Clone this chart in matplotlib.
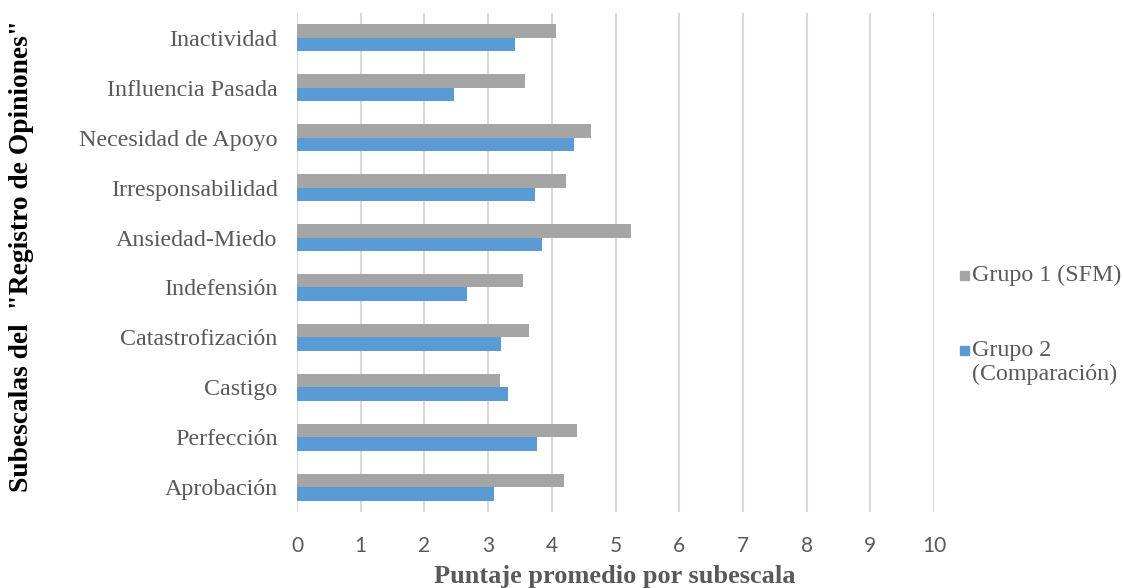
import numpy as np
import matplotlib
matplotlib.use('Agg')
import matplotlib.pyplot as plt
from matplotlib.patches import Rectangle

# Subscales (top to bottom as shown)
categories = ['Inactividad', 'Influencia Pasada', 'Necesidad de Apoyo',
              'Irresponsabilidad', 'Ansiedad-Miedo', 'Indefensión',
              'Catastrofización', 'Castigo', 'Perfección', 'Aprobación']
grupo1 = [4.07, 3.58, 4.62, 4.22, 5.25, 3.55, 3.64, 3.18, 4.40, 4.19]
grupo2 = [3.42, 2.46, 4.35, 3.73, 3.84, 2.67, 3.21, 3.31, 3.76, 3.10]
xticks = list(range(0, 11))

label1 = 'Grupo 1 (SFM)'
label2 = 'Grupo 2\n(Comparación)'

GRAY = '#A5A5A5'
BLUE = '#5B9BD5'
TXT = '#595959'
GRID = '#D9D9D9'
SERIF = 'Liberation Serif'

W, H = 1123, 588
fig = plt.figure(figsize=(W / 100, H / 100), dpi=100)
ax = fig.add_axes([297 / W, 1 - 512 / H, (934 - 297) / W, (512 - 13) / H])

y = np.arange(len(categories))
h = 0.27
ax.barh(y - h / 2, grupo1, height=h, color=GRAY, zorder=3)
ax.barh(y + h / 2, grupo2, height=h, color=BLUE, zorder=3)

ax.set_ylim(len(categories) - 0.5, -0.5)
ax.set_xlim(0, 10)
ax.set_xticks(xticks)
ax.grid(axis='x', color=GRID, linewidth=1.5, zorder=0)
for s in ax.spines.values():
    s.set_visible(False)
ax.axvline(0, color=GRID, linewidth=1.5, zorder=1)

ax.set_yticks(y)
ax.set_yticklabels(categories, fontsize=17.3, family=SERIF, color=TXT)
ax.tick_params(axis='y', length=0, pad=14)
ax.tick_params(axis='x', length=0, pad=17, labelsize=15, labelcolor=TXT)
for t in ax.get_xticklabels():
    t.set_family('Lato')

fig.text(615 / W, 1 - 577 / H, 'Puntaje promedio por subescala',
         ha='center', va='center', fontsize=19, family=SERIF,
         fontweight='bold', color=TXT)
fig.text(22 / W, 1 - 256 / H, 'Subescalas del  "Registro de Opiniones"',
         rotation=90, ha='center', va='center', fontsize=19.8, family=SERIF,
         fontweight='bold', color='black')

# legend drawn by hand so the marker sits on the first line of each entry
for col, lab, yc in [(GRAY, label1, 275), (BLUE, label2, 350)]:
    fig.add_artist(Rectangle((960 / W, 1 - (yc + 4.5) / H), 9 / W, 9 / H,
                             transform=fig.transFigure, color=col))
    fig.text(972 / W, 1 - (yc - 10) / H, lab, ha='left', va='top',
             fontsize=17.3, family=SERIF, color=TXT, linespacing=1.15)

fig.savefig('out.png', dpi=100)
